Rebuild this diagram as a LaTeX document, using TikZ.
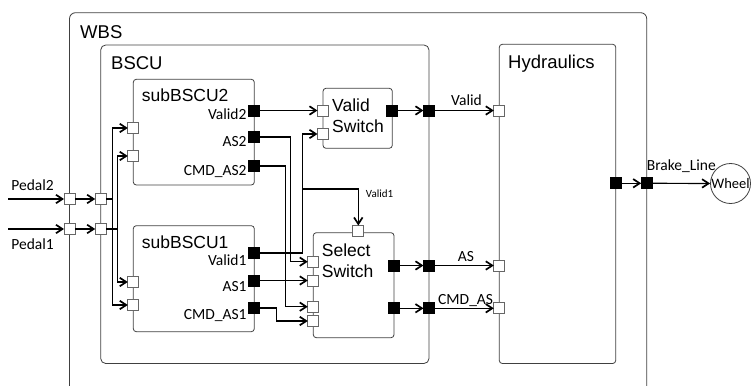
\documentclass[tikz,border=0pt]{standalone}
\usepackage{fontspec}
\setmainfont{Liberation Sans}
\newfontfamily\calfont{Carlito}
\usetikzlibrary{arrows.meta}
\definecolor{Frame}{HTML}{404040}
\definecolor{Rim}{HTML}{666666}

\begin{document}
\begin{tikzpicture}[x=1pt,y=-1pt,
box/.style={draw=Frame,line width=0.8pt,rounded corners=3pt,inner sep=0pt,outer sep=0pt,anchor=north west},
ttl/.style={font=\fontsize{18.5}{22}\selectfont,anchor=base west,inner sep=0pt},
sub/.style={font=\fontsize{17.5}{21.7}\selectfont,align=left,anchor=north west,inner sep=0pt},
inp/.style={draw=Rim,fill=white,line width=0.8pt,minimum size=11pt,inner sep=0pt,outer sep=0pt},
outp/.style={inp,draw=black,fill=black},
lbl/.style={font=\calfont\fontsize{15.5}{18}\selectfont,anchor=base east,inner sep=0pt},
arr/.style={-{Straight Barb[length=6.5pt,width=8.5pt,line width=1.7pt]},line width=1.2pt}]
\useasboundingbox (0,0) rectangle (751,385);
\clip (0,0) rectangle (751,385);
% containers
\node[box,rounded corners=6pt,minimum width=577.2pt,minimum height=400pt] (wbs) at (69.5,12.7) {};
\node[box,rounded corners=5pt,minimum width=328.3pt,minimum height=318.5pt] (bscu) at (100.7,45) {};
\node[box,minimum width=116.4pt,minimum height=319.2pt] (hyd) at (499.3,44.3) {};
\node[box,minimum width=121pt,minimum height=105.7pt] (sub2) at (133.3,79.3) {};
\node[box,minimum width=121pt,minimum height=106pt] (sub1) at (133.3,225.7) {};
\node[box,minimum width=69.3pt,minimum height=60pt] (vsw) at (323,88.3) {};
\node[box,minimum width=80.7pt,minimum height=105pt] (ssw) at (313.3,232.7) {};
\node[ttl] (wbsT) at (80,38.3) {WBS};
\node[ttl] (bscuT) at (111,70) {BSCU};
\node[ttl] (hydT) at (508,68.3) {Hydraulics};
\node[ttl,font=\fontsize{17.5}{21}\selectfont] (sub2T) at (141.7,101.7) {subBSCU2};
\node[ttl,font=\fontsize{17.5}{21}\selectfont] (sub1T) at (141.7,248.3) {subBSCU1};
\node[sub] (vswT) at (332,98.3) {Valid\\Switch};
\node[sub] (sswT) at (321.7,243.3) {Select\\Switch};
% ports
\node[inp] (wP2) at (69.5,199) {}; \node[inp] (wP1) at (69.5,229) {};
\node[inp] (bP2) at (100.7,199) {}; \node[inp] (bP1) at (100.7,229) {};
\node[inp] (s2i1) at (133.3,128) {}; \node[inp] (s2i2) at (133.3,156) {};
\node[inp] (s1i1) at (133.3,282) {}; \node[inp] (s1i2) at (133.3,305) {};
\node[outp] (s2v) at (254.3,110.5) {}; \node[outp] (s2as) at (254.3,137) {}; \node[outp] (s2cmd) at (254.3,166) {};
\node[outp] (s1v) at (254.3,253) {}; \node[outp] (s1as) at (254.3,280.5) {}; \node[outp] (s1cmd) at (254.3,308) {};
\node[inp] (vsi1) at (323,110.5) {}; \node[inp] (vsi2) at (323,134) {};
\node[outp] (vso) at (392.3,110.5) {};
\node[inp] (sst) at (358.3,231) {};
\node[inp] (ssi1) at (313.3,261.7) {}; \node[inp] (ssi2) at (313.3,280.5) {};
\node[inp] (ssi3) at (313.3,306.7) {}; \node[inp] (ssi4) at (313.3,321) {};
\node[outp] (sso1) at (394,265.5) {}; \node[outp] (sso2) at (394,308.3) {};
\node[outp] (bo1) at (429,110.5) {}; \node[outp] (bo2) at (429,265.5) {}; \node[outp] (bo3) at (429,308.3) {};
\node[inp] (hi1) at (499.3,110.5) {}; \node[inp] (hi2) at (499.3,265.5) {}; \node[inp] (hi3) at (499.3,308.3) {};
\node[outp] (ho) at (615.7,183.3) {}; \node[outp] (wo) at (646.7,183.3) {};
\node[circle,draw=Frame,line width=0.8pt,minimum size=40pt,inner sep=0pt,font=\calfont\fontsize{14.5}{16}\selectfont] (wheel) at (730.5,183.5) {Wheel};
% port labels
\node[lbl] at (246.7,119) {Valid2}; \node[lbl] at (246.7,146.5) {AS2}; \node[lbl] at (246.7,175) {CMD\_AS2};
\node[lbl] at (246.7,265.5) {Valid1}; \node[lbl] at (246.7,291) {AS1}; \node[lbl] at (246.7,319) {CMD\_AS1};
% wiring
\coordinate (inP2) at (8,199); \coordinate (inP1) at (8,229);
\coordinate (kP2) at (112.7,0); \coordinate (kP1) at (117.3,0);
\coordinate (kCMD1) at (276.7,0); \coordinate (kCMD2) at (285.7,0);
\coordinate (kAS2) at (290.7,0); \coordinate (kV1) at (302.7,189);
\draw[arr] (inP2) -- node[lbl,anchor=base west,pos=0.05,yshift=8.5pt] {Pedal2} (wP2);
\draw[arr] (inP1) -- node[lbl,anchor=base west,pos=0.05,yshift=-20pt] {Pedal1} (wP1);
\draw[arr] (wP2) -- (bP2); \draw[arr] (wP1) -- (bP1);
\draw[arr] (bP2) -| (kP2 |- s2i1) -- (s2i1);
\draw[arr] (kP2 |- bP2) |- (s1i2);
\draw[arr] (bP1) -| (kP1 |- s2i2) -- (s2i2);
\draw[arr] (kP1 |- bP1) |- (s1i1);
\draw[arr] (s2v) -- (vsi1);
\draw[arr] (s2as) -| (kAS2 |- ssi1) -- (ssi1);
\draw[arr] (s2cmd) -| (kCMD2 |- ssi3) -- (ssi3);
\draw[arr] (s1v) -| (kV1) |- (vsi2);
\draw[arr] (kV1) -| node[lbl,anchor=base west,pos=0.62,font=\calfont\fontsize{11}{13}\selectfont,xshift=7pt] {Valid1} (sst);
\draw[arr] (s1as) -- (ssi2);
\draw[arr] (s1cmd) -| (kCMD1 |- ssi4) -- (ssi4);
\draw[arr] (vso) -- (bo1); \draw[arr] (bo1) -- (hi1);
\draw[arr] (sso1) -- (bo2); \draw[arr] (bo2) -- (hi2);
\draw[arr] (sso2) -- (bo3); \draw[arr] (bo3) -- (hi3);
\draw[arr] (ho) -- (wo); \draw[arr] (wo) -- (wheel);
\node[lbl,anchor=base west] at (451,106) {Valid};
\node[lbl,anchor=base west] at (457.7,261.7) {AS};
\node[lbl,anchor=base west] at (438,304) {CMD\_AS};
\node[lbl,anchor=base west] at (646.7,170.7) {Brake\_Line};
\end{tikzpicture}
\end{document}
